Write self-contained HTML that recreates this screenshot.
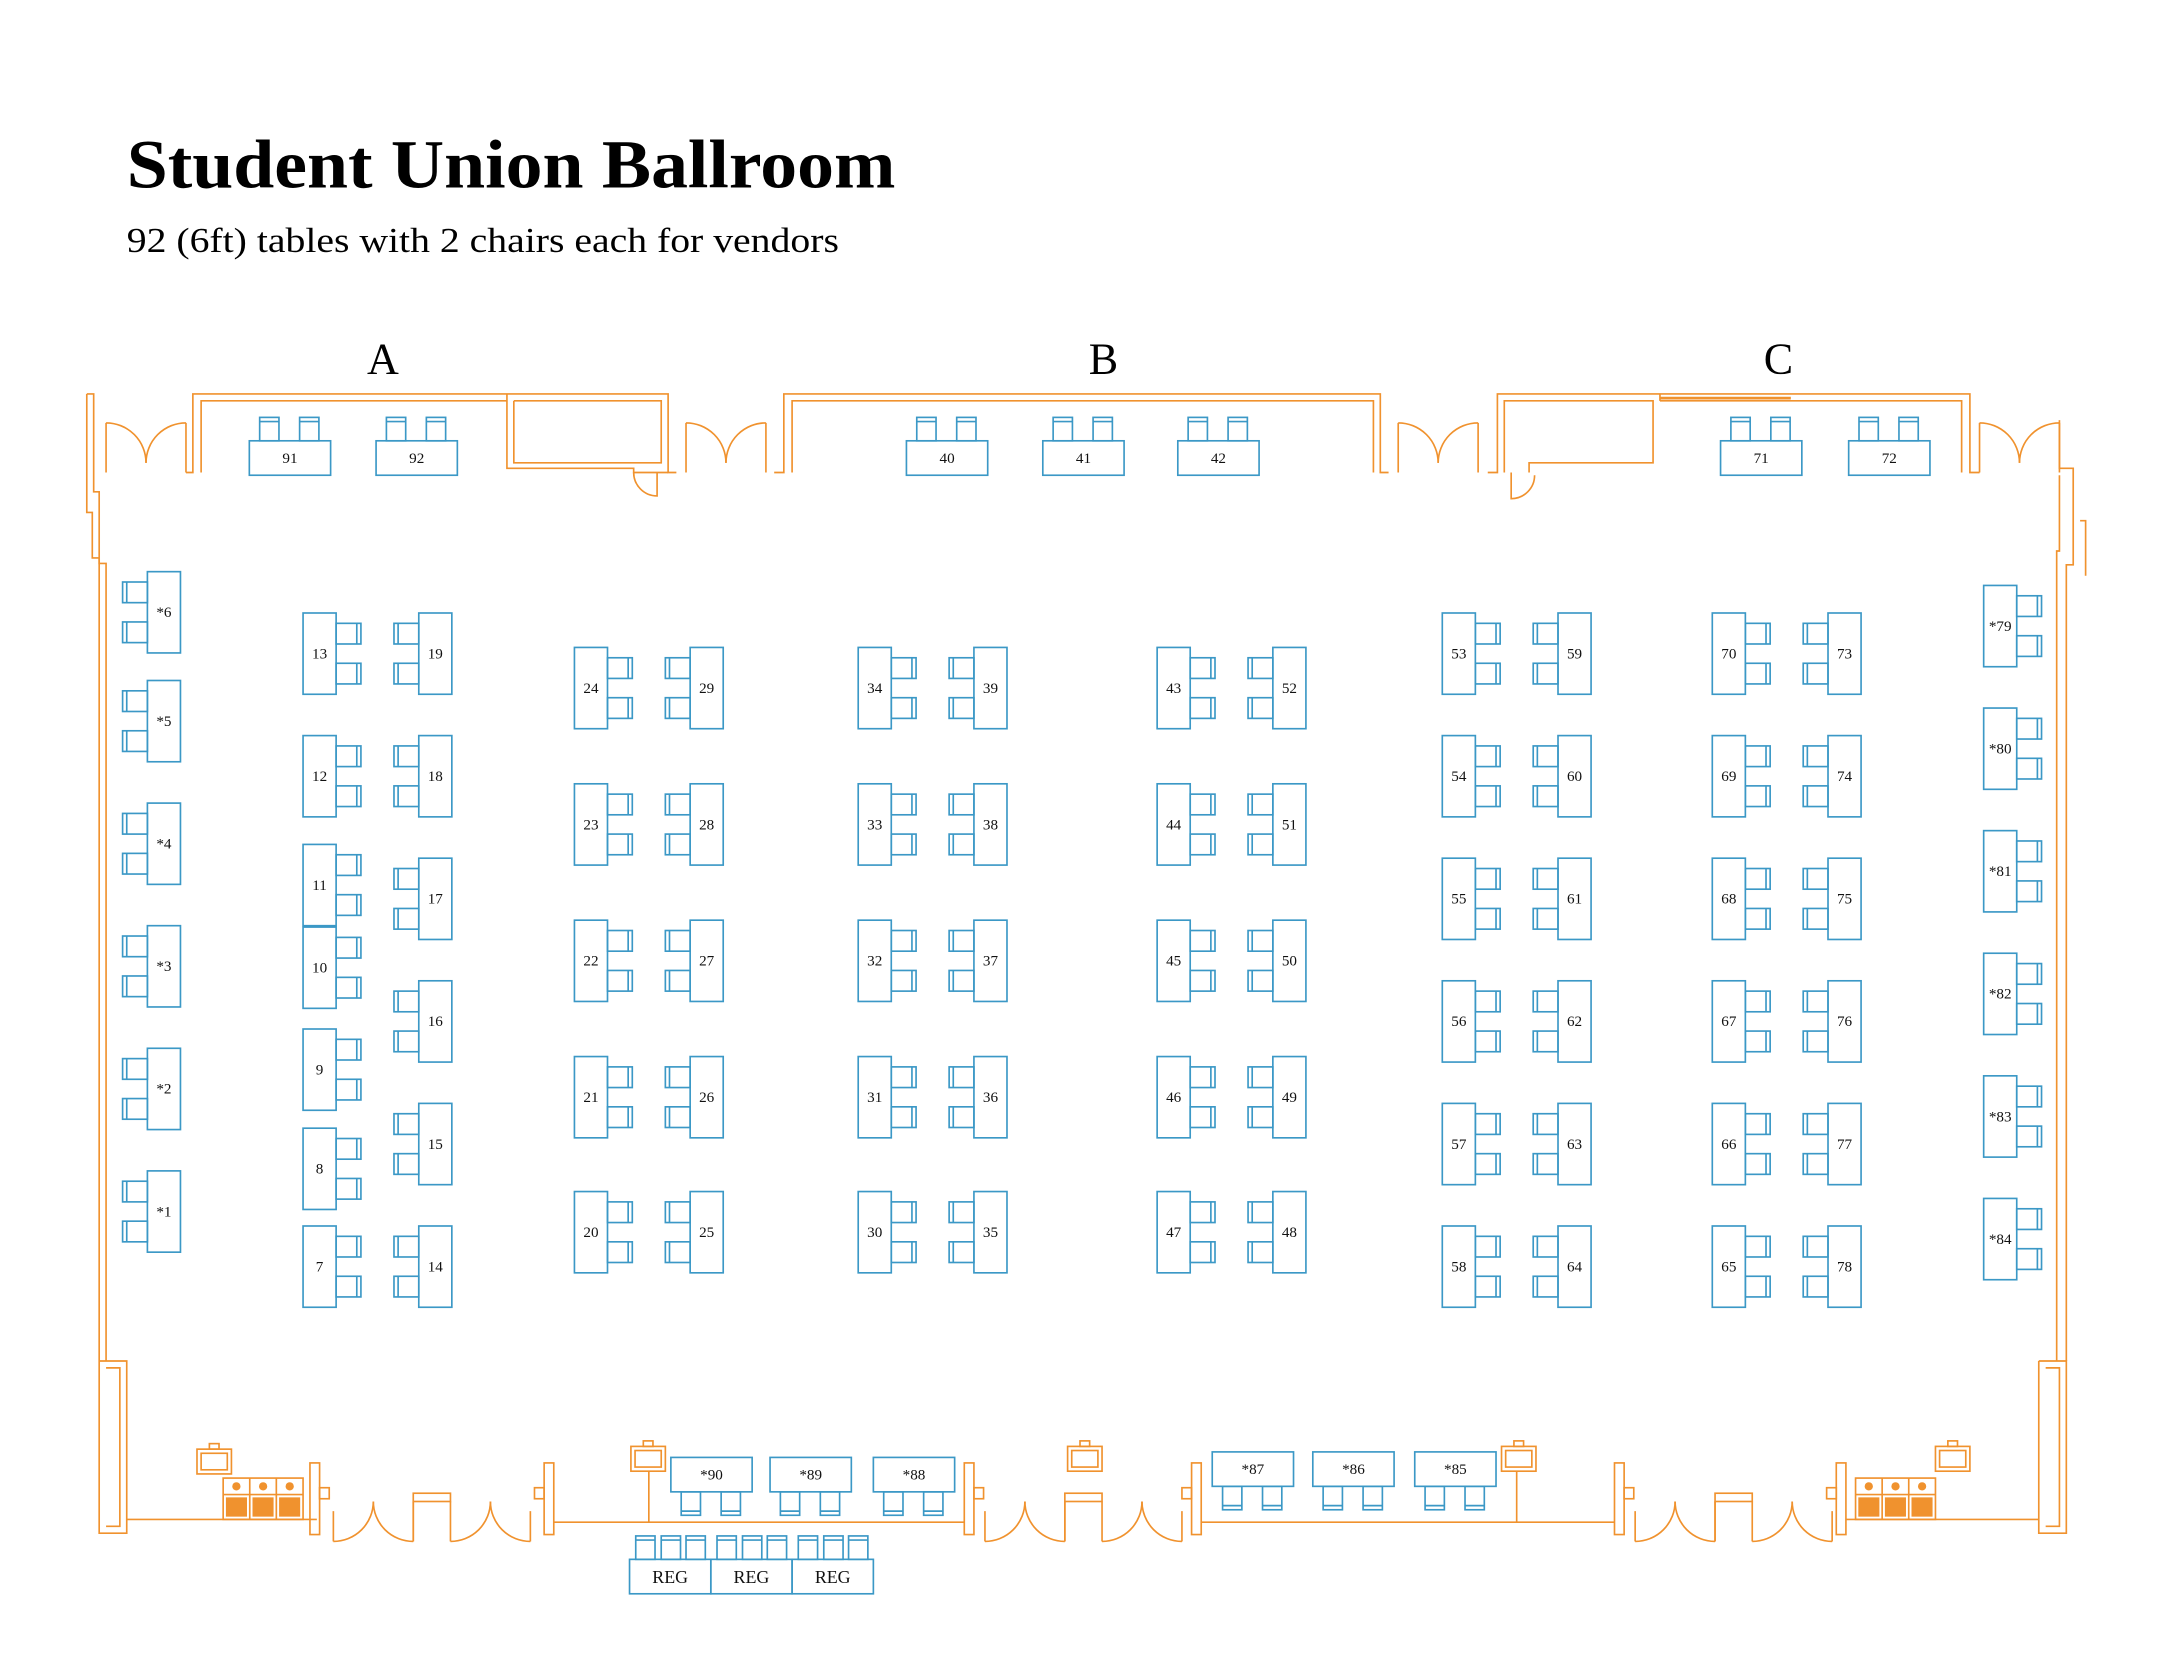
<!DOCTYPE html>
<html><head><meta charset="utf-8"><style>
html,body{margin:0;padding:0;background:#fff;}
svg{display:block;}
.t{fill:none;stroke:#3b98c6;stroke-width:1.2;}
.w{fill:none;stroke:#f0922e;stroke-width:1.2;}
.lb{font-family:"Liberation Serif",serif;font-size:11px;fill:#111;text-anchor:middle;}
.reg{font-family:"Liberation Serif",serif;font-size:13px;fill:#111;text-anchor:middle;}
</style></head><body>
<svg width="2160" height="1669" viewBox="0 0 1568 1211.6" preserveAspectRatio="none" xmlns="http://www.w3.org/2000/svg">
<defs>
<g id="vr" class="t"><rect x="0" y="0" width="24" height="59" fill="#fff"/><rect x="24" y="7.5" width="18" height="15"/><line x1="39" y1="7.5" x2="39" y2="22.5"/><rect x="24" y="36.5" width="18" height="15"/><line x1="39" y1="36.5" x2="39" y2="51.5"/></g>
<g id="vl" class="t"><rect x="0" y="0" width="24" height="59" fill="#fff"/><rect x="-18" y="7.5" width="18" height="15"/><line x1="-15" y1="7.5" x2="-15" y2="22.5"/><rect x="-18" y="36.5" width="18" height="15"/><line x1="-15" y1="36.5" x2="-15" y2="51.5"/></g>
<g id="hu" class="t"><rect x="0" y="0" width="59" height="25"/><rect x="7.5" y="-17" width="14" height="17"/><line x1="7.5" y1="-14" x2="21.5" y2="-14"/><rect x="36.5" y="-17" width="14" height="17"/><line x1="36.5" y1="-14" x2="50.5" y2="-14"/></g>
<g id="hd" class="t"><rect x="0" y="0" width="59" height="25"/><rect x="7.5" y="25" width="14" height="17"/><line x1="7.5" y1="39" x2="21.5" y2="39"/><rect x="36.5" y="25" width="14" height="17"/><line x1="36.5" y1="39" x2="50.5" y2="39"/></g>
<g id="rg" class="t"><rect x="0" y="0" width="59" height="25"/><rect x="4.5" y="-17" width="14" height="17"/><line x1="4.5" y1="-14" x2="18.5" y2="-14"/><rect x="23" y="-17" width="14" height="17"/><line x1="23" y1="-14" x2="37" y2="-14"/><rect x="41" y="-17" width="14" height="17"/><line x1="41" y1="-14" x2="55" y2="-14"/></g>
<g id="dt" class="w"><line x1="0" y1="307" x2="0" y2="343"/><path d="M0 307 A29 29 0 0 1 29 336"/><line x1="58" y1="307" x2="58" y2="343"/><path d="M58 307 A29 29 0 0 0 29 336"/></g>
<g id="db" class="w"><line x1="0" y1="1097" x2="0" y2="1119"/><path d="M0 1119 A29 29 0 0 0 29 1090"/><line x1="58" y1="1090" x2="58" y2="1119"/><path d="M58 1119 A29 29 0 0 1 29 1090"/><rect x="58" y="1084" width="27" height="6"/><line x1="58" y1="1090" x2="58" y2="1119"/><line x1="85" y1="1090" x2="85" y2="1119"/><path d="M85 1119 A29 29 0 0 0 114 1090"/><line x1="143" y1="1097" x2="143" y2="1119"/><path d="M143 1119 A29 29 0 0 1 114 1090"/></g>
<g id="fx" class="w"><rect x="0" y="0" width="25" height="18"/><rect x="3" y="3" width="19" height="12"/><rect x="9" y="-4" width="7" height="4"/></g>
<g id="ob"><rect x="0" y="0" width="58" height="30" class="w"/><line x1="19.3" y1="0" x2="19.3" y2="30" class="w"/><line x1="38.6" y1="0" x2="38.6" y2="30" class="w"/><line x1="0" y1="12" x2="58" y2="12" class="w"/><circle cx="9.6" cy="6" r="3" fill="#f0922e"/><circle cx="29" cy="6" r="3" fill="#f0922e"/><circle cx="48.3" cy="6" r="3" fill="#f0922e"/><rect x="2" y="14" width="15.3" height="14" fill="#f0922e"/><rect x="21.3" y="14" width="15.3" height="14" fill="#f0922e"/><rect x="40.6" y="14" width="15.3" height="14" fill="#f0922e"/></g>
</defs>

<text x="92" y="136" font-family="Liberation Serif,serif" font-weight="bold" font-size="50" textLength="558" lengthAdjust="spacingAndGlyphs" fill="#000">Student Union Ballroom</text>
<text x="92" y="183" font-family="Liberation Serif,serif" font-size="25" textLength="517" lengthAdjust="spacingAndGlyphs" fill="#000">92 (6ft) tables with 2 chairs each for vendors</text>
<text x="278" y="271" font-family="Liberation Serif,serif" font-size="32" text-anchor="middle" fill="#000">A</text>
<text x="801" y="271" font-family="Liberation Serif,serif" font-size="32" text-anchor="middle" fill="#000">B</text>
<text x="1291" y="271" font-family="Liberation Serif,serif" font-size="32" text-anchor="middle" fill="#000">C</text>

<!-- walls -->
<g class="w">
<polyline points="63,286 68,286 68,357 72,357 72,409 77,409 77,988"/>
<polyline points="63,286 63,372 67,372 67,405 72,405 72,988"/>
<polyline points="72,988 72,1113 92,1113 92,988 72,988"/>
<polyline points="77,993 87,993 87,1108 77,1108"/>
<line x1="92" y1="1103" x2="230" y2="1103"/>
<rect x="225" y="1062" width="7" height="52"/><rect x="232" y="1080" width="7" height="8"/>
<polyline points="135,343 140,343 140,286 485,286 485,343 491,343"/>
<polyline points="146,343 146,291 368,291"/>
<polyline points="368,286 368,340 460,340 460,343 485,343"/>
<polyline points="373,291 480,291 480,336 373,336 373,291"/>
<path d="M460 343 A17 17 0 0 0 477 360 L477 343"/>
<polyline points="562,343 569,343 569,286 1002,286 1002,343 1008,343"/>
<polyline points="575,343 575,291 997,291 997,343"/>
<polyline points="1080,343 1087,343 1087,286 1430,286 1430,343 1437,343"/>
<polyline points="1092,343 1092,291 1200,291 1200,336 1110,336 1110,343"/>
<polyline points="1205,291 1424,291 1424,343"/>
<line x1="1205" y1="286" x2="1205" y2="291"/>
<line x1="1205" y1="289" x2="1300" y2="289" stroke-width="2"/>
<path d="M1097 343 L1097 362 A17 17 0 0 0 1114 345"/>
<polyline points="1495,305 1495,340 1505,340 1505,410 1500,410 1500,988"/>
<polyline points="1495,345 1495,400 1493,400 1493,988"/>
<polyline points="1510,378 1514,378 1514,418"/>
<polyline points="1480,988 1500,988 1500,1113 1480,1113 1480,988"/>
<polyline points="1485,993 1495,993 1495,1108 1485,1108"/>
<line x1="1340" y1="1103" x2="1480" y2="1103"/>
<rect x="395" y="1062" width="7" height="52"/><rect x="388" y="1080" width="7" height="8"/>
<line x1="402" y1="1105" x2="700" y2="1105"/>
<rect x="700" y="1062" width="7" height="52"/><rect x="707" y="1080" width="7" height="8"/>
<rect x="865" y="1062" width="7" height="52"/><rect x="858" y="1080" width="7" height="8"/>
<line x1="872" y1="1105" x2="1172" y2="1105"/>
<rect x="1172" y="1062" width="7" height="52"/><rect x="1179" y="1080" width="7" height="8"/>
<rect x="1333" y="1062" width="7" height="52"/><rect x="1326" y="1080" width="7" height="8"/>
<line x1="471" y1="1068" x2="471" y2="1105"/>
<line x1="1101" y1="1068" x2="1101" y2="1105"/>
</g>
<use href="#dt" x="77" y="0"/><use href="#dt" x="498" y="0"/><use href="#dt" x="1015" y="0"/><use href="#dt" x="1437" y="0"/>
<use href="#db" x="242" y="0"/><use href="#db" x="715" y="0"/><use href="#db" x="1187" y="0"/>
<use href="#fx" x="143" y="1052"/><use href="#fx" x="458" y="1050"/><use href="#fx" x="775" y="1050"/><use href="#fx" x="1090" y="1050"/><use href="#fx" x="1405" y="1050"/>
<use href="#ob" x="162" y="1073"/><use href="#ob" x="1347" y="1073"/>

<!-- vertical tables -->
<use href="#vl" x="107" y="415"/><use href="#vl" x="107" y="494"/><use href="#vl" x="107" y="583"/><use href="#vl" x="107" y="672"/><use href="#vl" x="107" y="761"/><use href="#vl" x="107" y="850"/>
<use href="#vr" x="220" y="445"/><use href="#vr" x="220" y="534"/><use href="#vr" x="220" y="613"/><use href="#vr" x="220" y="673"/><use href="#vr" x="220" y="747"/><use href="#vr" x="220" y="819"/><use href="#vr" x="220" y="890"/>
<use href="#vl" x="304" y="445"/><use href="#vl" x="304" y="534"/><use href="#vl" x="304" y="623"/><use href="#vl" x="304" y="712"/><use href="#vl" x="304" y="801"/><use href="#vl" x="304" y="890"/>
<use href="#vr" x="417" y="470"/><use href="#vr" x="417" y="569"/><use href="#vr" x="417" y="668"/><use href="#vr" x="417" y="767"/><use href="#vr" x="417" y="865"/>
<use href="#vl" x="501" y="470"/><use href="#vl" x="501" y="569"/><use href="#vl" x="501" y="668"/><use href="#vl" x="501" y="767"/><use href="#vl" x="501" y="865"/>
<use href="#vr" x="623" y="470"/><use href="#vr" x="623" y="569"/><use href="#vr" x="623" y="668"/><use href="#vr" x="623" y="767"/><use href="#vr" x="623" y="865"/>
<use href="#vl" x="707" y="470"/><use href="#vl" x="707" y="569"/><use href="#vl" x="707" y="668"/><use href="#vl" x="707" y="767"/><use href="#vl" x="707" y="865"/>
<use href="#vr" x="840" y="470"/><use href="#vr" x="840" y="569"/><use href="#vr" x="840" y="668"/><use href="#vr" x="840" y="767"/><use href="#vr" x="840" y="865"/>
<use href="#vl" x="924" y="470"/><use href="#vl" x="924" y="569"/><use href="#vl" x="924" y="668"/><use href="#vl" x="924" y="767"/><use href="#vl" x="924" y="865"/>
<use href="#vr" x="1047" y="445"/><use href="#vr" x="1047" y="534"/><use href="#vr" x="1047" y="623"/><use href="#vr" x="1047" y="712"/><use href="#vr" x="1047" y="801"/><use href="#vr" x="1047" y="890"/>
<use href="#vl" x="1131" y="445"/><use href="#vl" x="1131" y="534"/><use href="#vl" x="1131" y="623"/><use href="#vl" x="1131" y="712"/><use href="#vl" x="1131" y="801"/><use href="#vl" x="1131" y="890"/>
<use href="#vr" x="1243" y="445"/><use href="#vr" x="1243" y="534"/><use href="#vr" x="1243" y="623"/><use href="#vr" x="1243" y="712"/><use href="#vr" x="1243" y="801"/><use href="#vr" x="1243" y="890"/>
<use href="#vl" x="1327" y="445"/><use href="#vl" x="1327" y="534"/><use href="#vl" x="1327" y="623"/><use href="#vl" x="1327" y="712"/><use href="#vl" x="1327" y="801"/><use href="#vl" x="1327" y="890"/>
<use href="#vr" x="1440" y="425"/><use href="#vr" x="1440" y="514"/><use href="#vr" x="1440" y="603"/><use href="#vr" x="1440" y="692"/><use href="#vr" x="1440" y="781"/><use href="#vr" x="1440" y="870"/>

<!-- horizontal tables -->
<use href="#hu" x="181" y="320"/><use href="#hu" x="273" y="320"/><use href="#hu" x="658" y="320"/><use href="#hu" x="757" y="320"/><use href="#hu" x="855" y="320"/><use href="#hu" x="1249" y="320"/><use href="#hu" x="1342" y="320"/>
<use href="#hd" x="487" y="1058"/><use href="#hd" x="559" y="1058"/><use href="#hd" x="634" y="1058"/><use href="#hd" x="880" y="1054"/><use href="#hd" x="953" y="1054"/><use href="#hd" x="1027" y="1054"/>
<use href="#rg" x="457" y="1132"/><use href="#rg" x="516" y="1132"/><use href="#rg" x="575" y="1132"/>

<!-- labels -->
<g class="lb">
<text x="119" y="448">*6</text><text x="119" y="527">*5</text><text x="119" y="616">*4</text><text x="119" y="705">*3</text><text x="119" y="794">*2</text><text x="119" y="883">*1</text>
<text x="232" y="478">13</text><text x="232" y="567">12</text><text x="232" y="646">11</text><text x="232" y="706">10</text><text x="232" y="780">9</text><text x="232" y="852">8</text><text x="232" y="923">7</text>
<text x="316" y="478">19</text><text x="316" y="567">18</text><text x="316" y="656">17</text><text x="316" y="745">16</text><text x="316" y="834">15</text><text x="316" y="923">14</text>
<text x="429" y="503">24</text><text x="429" y="602">23</text><text x="429" y="701">22</text><text x="429" y="800">21</text><text x="429" y="898">20</text>
<text x="513" y="503">29</text><text x="513" y="602">28</text><text x="513" y="701">27</text><text x="513" y="800">26</text><text x="513" y="898">25</text>
<text x="635" y="503">34</text><text x="635" y="602">33</text><text x="635" y="701">32</text><text x="635" y="800">31</text><text x="635" y="898">30</text>
<text x="719" y="503">39</text><text x="719" y="602">38</text><text x="719" y="701">37</text><text x="719" y="800">36</text><text x="719" y="898">35</text>
<text x="852" y="503">43</text><text x="852" y="602">44</text><text x="852" y="701">45</text><text x="852" y="800">46</text><text x="852" y="898">47</text>
<text x="936" y="503">52</text><text x="936" y="602">51</text><text x="936" y="701">50</text><text x="936" y="800">49</text><text x="936" y="898">48</text>
<text x="1059" y="478">53</text><text x="1059" y="567">54</text><text x="1059" y="656">55</text><text x="1059" y="745">56</text><text x="1059" y="834">57</text><text x="1059" y="923">58</text>
<text x="1143" y="478">59</text><text x="1143" y="567">60</text><text x="1143" y="656">61</text><text x="1143" y="745">62</text><text x="1143" y="834">63</text><text x="1143" y="923">64</text>
<text x="1255" y="478">70</text><text x="1255" y="567">69</text><text x="1255" y="656">68</text><text x="1255" y="745">67</text><text x="1255" y="834">66</text><text x="1255" y="923">65</text>
<text x="1339" y="478">73</text><text x="1339" y="567">74</text><text x="1339" y="656">75</text><text x="1339" y="745">76</text><text x="1339" y="834">77</text><text x="1339" y="923">78</text>
<text x="1452" y="458">*79</text><text x="1452" y="547">*80</text><text x="1452" y="636">*81</text><text x="1452" y="725">*82</text><text x="1452" y="814">*83</text><text x="1452" y="903">*84</text>
<text x="210.5" y="336">91</text><text x="302.5" y="336">92</text><text x="687.5" y="336">40</text><text x="786.5" y="336">41</text><text x="884.5" y="336">42</text><text x="1278.5" y="336">71</text><text x="1371.5" y="336">72</text>
<text x="516.5" y="1074">*90</text><text x="588.5" y="1074">*89</text><text x="663.5" y="1074">*88</text><text x="909.5" y="1070">*87</text><text x="982.5" y="1070">*86</text><text x="1056.5" y="1070">*85</text>
</g>
<g class="reg"><text x="486.5" y="1149">REG</text><text x="545.5" y="1149">REG</text><text x="604.5" y="1149">REG</text></g>
</svg>
</body></html>
